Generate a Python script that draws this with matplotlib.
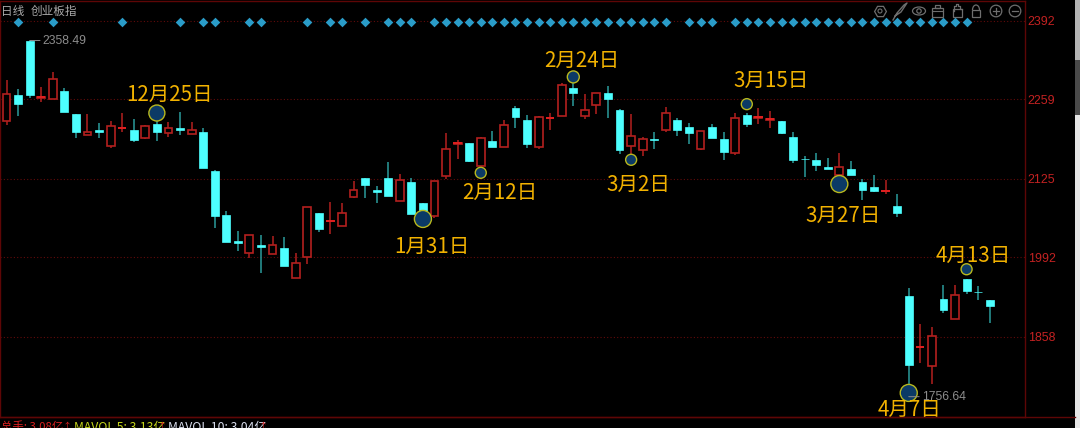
# -*- coding: utf-8 -*-
import numpy as np
import matplotlib
matplotlib.use("Agg")
import matplotlib.pyplot as plt
from matplotlib.patches import Circle, Ellipse, Rectangle, Arc

plt.rcParams['font.family'] = ['Noto Sans CJK SC', 'DejaVu Sans']

# Daily candles
opens = [2222, 2266, 2358, 2262, 2260, 2273, 2234, 2199, 2207, 2180, 2210, 2207, 2194, 2217, 2202, 2211, 2201, 2204,
         2138, 2064, 2020, 1999, 2013, 1998, 2008, 1957, 1993, 2067, 2053, 2045, 2094, 2126, 2106, 2126, 2087, 2119,
         2084, 2062, 2130, 2184, 2185, 2146, 2189, 2179, 2244, 2224, 2179, 2227, 2231, 2278, 2231, 2250, 2270, 2241,
         2180, 2173, 2192, 2207, 2224, 2212, 2175, 2212, 2192, 2168, 2233, 2228, 2225, 2222, 2195, 2159, 2157, 2145,
         2131, 2141, 2119, 2111, 2104, 2079, 1927, 1840, 1808, 1922, 1888, 1955, 1934, 1920]
highs = [2292, 2277, 2358.49, 2280, 2305, 2278, 2234, 2234, 2219, 2222, 2236, 2226, 2216, 2224, 2221, 2238, 2221, 2211,
         2140, 2070, 2037, 2030, 2030, 2028, 2026, 1999, 2077, 2067, 2086, 2084, 2121, 2126, 2113, 2153, 2133, 2126,
         2084, 2121, 2202, 2190, 2185, 2195, 2206, 2224, 2248, 2233, 2231, 2236, 2287, 2287, 2268, 2270, 2282, 2243,
         2234, 2195, 2204, 2246, 2228, 2219, 2206, 2217, 2204, 2236, 2236, 2244, 2239, 2222, 2204, 2163, 2168, 2160,
         2168, 2155, 2124, 2131, 2123, 2099, 1940, 1879, 1874, 1945, 1945, 1955, 1944, 1920]
lows = [2216, 2231, 2261, 2255, 2260, 2238, 2194, 2199, 2194, 2177, 2204, 2187, 2192, 2189, 2195, 2199, 2201, 2143,
        2042, 2018, 2003, 1991, 1966, 1998, 1977, 1957, 1981, 2035, 2032, 2045, 2092, 2092, 2084, 2096, 2087, 2065,
        2059, 2059, 2124, 2158, 2153, 2146, 2179, 2179, 2211, 2177, 2175, 2207, 2231, 2248, 2226, 2234, 2228, 2167,
        2165, 2163, 2175, 2204, 2197, 2184, 2173, 2194, 2157, 2165, 2212, 2217, 2211, 2201, 2152, 2128, 2138, 2141,
        2119, 2131, 2089, 2102, 2099, 2060, 1756.64, 1813, 1778, 1898, 1888, 1930, 1920, 1881]
closes = [2268, 2251, 2266, 2263, 2293, 2238, 2204, 2204, 2204, 2214, 2211, 2190, 2214, 2204, 2211, 2207, 2207, 2143,
          2062, 2018, 2016, 2030, 2010, 2013, 1977, 1982, 2077, 2040, 2054, 2067, 2106, 2114, 2102, 2096, 2123, 2065,
          2067, 2121, 2175, 2185, 2155, 2194, 2179, 2216, 2229, 2184, 2229, 2228, 2283, 2270, 2241, 2270, 2260, 2173,
          2197, 2192, 2190, 2236, 2207, 2202, 2206, 2194, 2170, 2228, 2217, 2229, 2226, 2202, 2157, 2158, 2148, 2141,
          2145, 2131, 2106, 2104, 2105, 2067, 1810, 1841, 1859, 1903, 1928, 1935, 1933, 1910]

# Candles that carry a diamond on the top row
signal_days = [1, 4, 10, 15, 17, 18, 21, 22, 26, 28, 29, 31, 33, 34, 35] + list(range(37, 58)) + [59, 60, 61] + list(range(63, 84))

# Marked dates
mark_labels = ['12月25日', '2月24日', '2月12日', '3月2日', '1月31日', '3月15日', '3月27日', '4月13日', '4月7日']
mark_days = [13, 49, 41, 54, 36, 64, 72, 83, 78]
mark_prices = [2236, 2297, 2135, 2157, 2057, 2251, 2116, 1972, 1763]
mark_radius = [8, 6, 5.5, 5.5, 8.5, 5.5, 8.5, 5.5, 8.5]
label_days = [14.1, 49.7, 42.6, 54.6, 36.8, 66.1, 72.3, 83.6, 78.1]
label_prices = [2267, 2324, 2101, 2115, 2010, 2290, 2062, 1995, 1734]

price_ticks = [2392, 2259, 2125, 1992, 1858]

RED = '#b4201f'
CYAN = '#4dffff'
TEAL = '#2a9c9c'
FRAME = '#5e0606'
ORANGE = '#f2b200'


def draw_candles(ax):
    o = np.array(opens, dtype=float)
    c = np.array(closes, dtype=float)
    h = np.array(highs, dtype=float)
    l = np.array(lows, dtype=float)
    days = np.arange(len(o))
    up = c >= o
    top = np.maximum(o, c)
    bottom = np.minimum(o, c)

    ax.vlines(days[up], top[up], h[up], color=RED, lw=1.1, zorder=3)
    ax.vlines(days[up], l[up], bottom[up], color=RED, lw=1.1, zorder=3)
    ax.vlines(days[~up], l[~up], h[~up], color=TEAL, lw=1.1, zorder=3)

    width = 0.68
    ax.bar(days[up], (top - bottom)[up], width, bottom[up], facecolor='black', edgecolor=RED, linewidth=1.2, zorder=4)
    ax.bar(days[~up], (top - bottom)[~up], width, bottom[~up], facecolor=CYAN, edgecolor=CYAN, linewidth=0.5, zorder=4)

    # red dojis show as a brighter cross
    doji = up & (top - bottom < 3)
    ax.hlines(c[doji], days[doji] - 0.36, days[doji] + 0.36, color='#e02020', lw=1.4, zorder=5)


def draw_marks(ax):
    sizes = [(2 * r * 0.72) ** 2 for r in mark_radius]
    ax.scatter(mark_days, mark_prices, s=sizes, facecolor='#0b3a66', edgecolor='#b8b81e', linewidth=1.0, zorder=5)
    for text, x, y in zip(mark_labels, label_days, label_prices):
        ax.text(x, y, text, color=ORANGE, fontsize=14.8, ha='center', va='center', zorder=6, clip_on=True)

    # extreme value labels
    for day, price, text in [(2, max(highs), '2358.49'), (78, min(lows), '1756.64')]:
        ax.annotate(text, xy=(day, price), xytext=(9.5, 0), textcoords='offset points', color='#8c8c8c', fontsize=8.8,
                    family='Liberation Sans', va='center', zorder=7,
                    arrowprops=dict(arrowstyle='-', color='#8c8c8c', lw=0.7, shrinkA=0, shrinkB=0))


def draw_chrome(fig):
    # overlay in pixel units for the window furniture
    ui = fig.add_axes([0, 0, 1, 1], zorder=10)
    ui.set_xlim(0, 1080)
    ui.set_ylim(428, 0)
    ui.axis('off')
    ui.patch.set_alpha(0)

    ui.plot([0, 1075], [417, 417], color=FRAME, lw=1.0)
    ui.add_patch(Rectangle((1075, 0), 5, 60, color='#b4b4b4', lw=0))
    ui.add_patch(Rectangle((1075, 60), 5, 55, color='#4a4a4a', lw=0))
    ui.add_patch(Rectangle((1075, 115), 5, 313, color='#e6e6e6', lw=0))

    ui.text(1, 11, '日线', color='#a8a8a8', fontsize=8.4, va='center')
    ui.text(31, 11, '创业板指', color='#a8a8a8', fontsize=8.4, va='center')

    grey = '#6e6e6e'
    ui.plot([880], [11], marker='H', ms=8.5, mfc='none', mec=grey, mew=0.9)
    ui.add_patch(Circle((880, 11), 2, fill=False, ec=grey, lw=0.8))
    ui.plot([893, 897, 904, 907, 901, 895], [20, 13, 5, 3, 12, 16], color=grey, lw=1.0)
    ui.add_patch(Ellipse((919, 11), 13, 8, fill=False, ec=grey, lw=0.9))
    ui.add_patch(Circle((919, 11), 2.2, fill=False, ec=grey, lw=0.9))
    ui.add_patch(Rectangle((932, 8), 11, 9, fill=False, ec=grey, lw=0.9))
    ui.add_patch(Rectangle((935, 5), 5, 3, fill=False, ec=grey, lw=0.9))
    ui.plot([932, 943], [11, 11], color=grey, lw=0.8)
    ui.add_patch(Rectangle((953, 9), 9, 8, fill=False, ec=grey, lw=0.9))
    ui.plot([954, 954, 956, 956, 958, 958, 960, 960, 962], [11, 6, 6, 4, 4, 6, 6, 9, 9], color=grey, lw=0.9)
    ui.add_patch(Rectangle((972, 10), 8, 7, fill=False, ec=grey, lw=0.9))
    ui.add_patch(Arc((976, 10), 7, 10, theta1=180, theta2=360, ec=grey, lw=0.9))
    for x in [996, 1015]:
        ui.add_patch(Circle((x, 11), 5.8, fill=False, ec=grey, lw=0.9))
        ui.plot([x - 3, x + 3], [11, 11], color=grey, lw=0.9)
    ui.plot([996, 996], [8, 14], color=grey, lw=0.9)

    # volume line, cut by the lower edge of the window
    for x, text, color, size in [(1, '总手: 3.08亿', '#d92020', 8.2), (74, 'MAVOL 5: 3.13亿', '#c4d41c', 8.8),
                                 (168, 'MAVOL 10: 3.04亿', '#d8dcec', 8.8)]:
        ui.text(x, 427, text, color=color, fontsize=size, va='center', clip_on=False)
    for x in [67, 162, 263]:
        ui.text(x, 427, '↑', color='#d92020', fontsize=6.5, ha='center', va='center')


def main():
    fig = plt.figure(figsize=(10.8, 4.28), dpi=100, facecolor='black')
    ax = fig.add_axes([0, 11 / 428, 1025 / 1080, 416 / 428], facecolor='black')
    ax.set_xlim(-0.562, 88.05)
    ax.set_ylim(1722.3, 2425.3)

    ax.yaxis.tick_right()
    ax.set_yticks(price_ticks)
    ax.set_yticklabels([str(t) for t in price_ticks], color='#c42222', fontsize=8.9, family='Liberation Sans')
    ax.tick_params(axis='y', length=0, pad=2)
    ax.set_xticks([])
    ax.grid(axis='y', color='#620a0a', linestyle=(0, (1, 2)), linewidth=0.8, zorder=0)
    ax.set_axisbelow(True)
    for spine in ax.spines.values():
        spine.set_color(FRAME)
        spine.set_linewidth(1.0)

    draw_candles(ax)
    ax.scatter(signal_days, [2389] * len(signal_days), marker='D', s=24, color='#2a9cc8', linewidth=0, zorder=5)
    draw_marks(ax)
    draw_chrome(fig)

    fig.savefig('out.png', dpi=100, facecolor='black')


if __name__ == "__main__":
    main()
